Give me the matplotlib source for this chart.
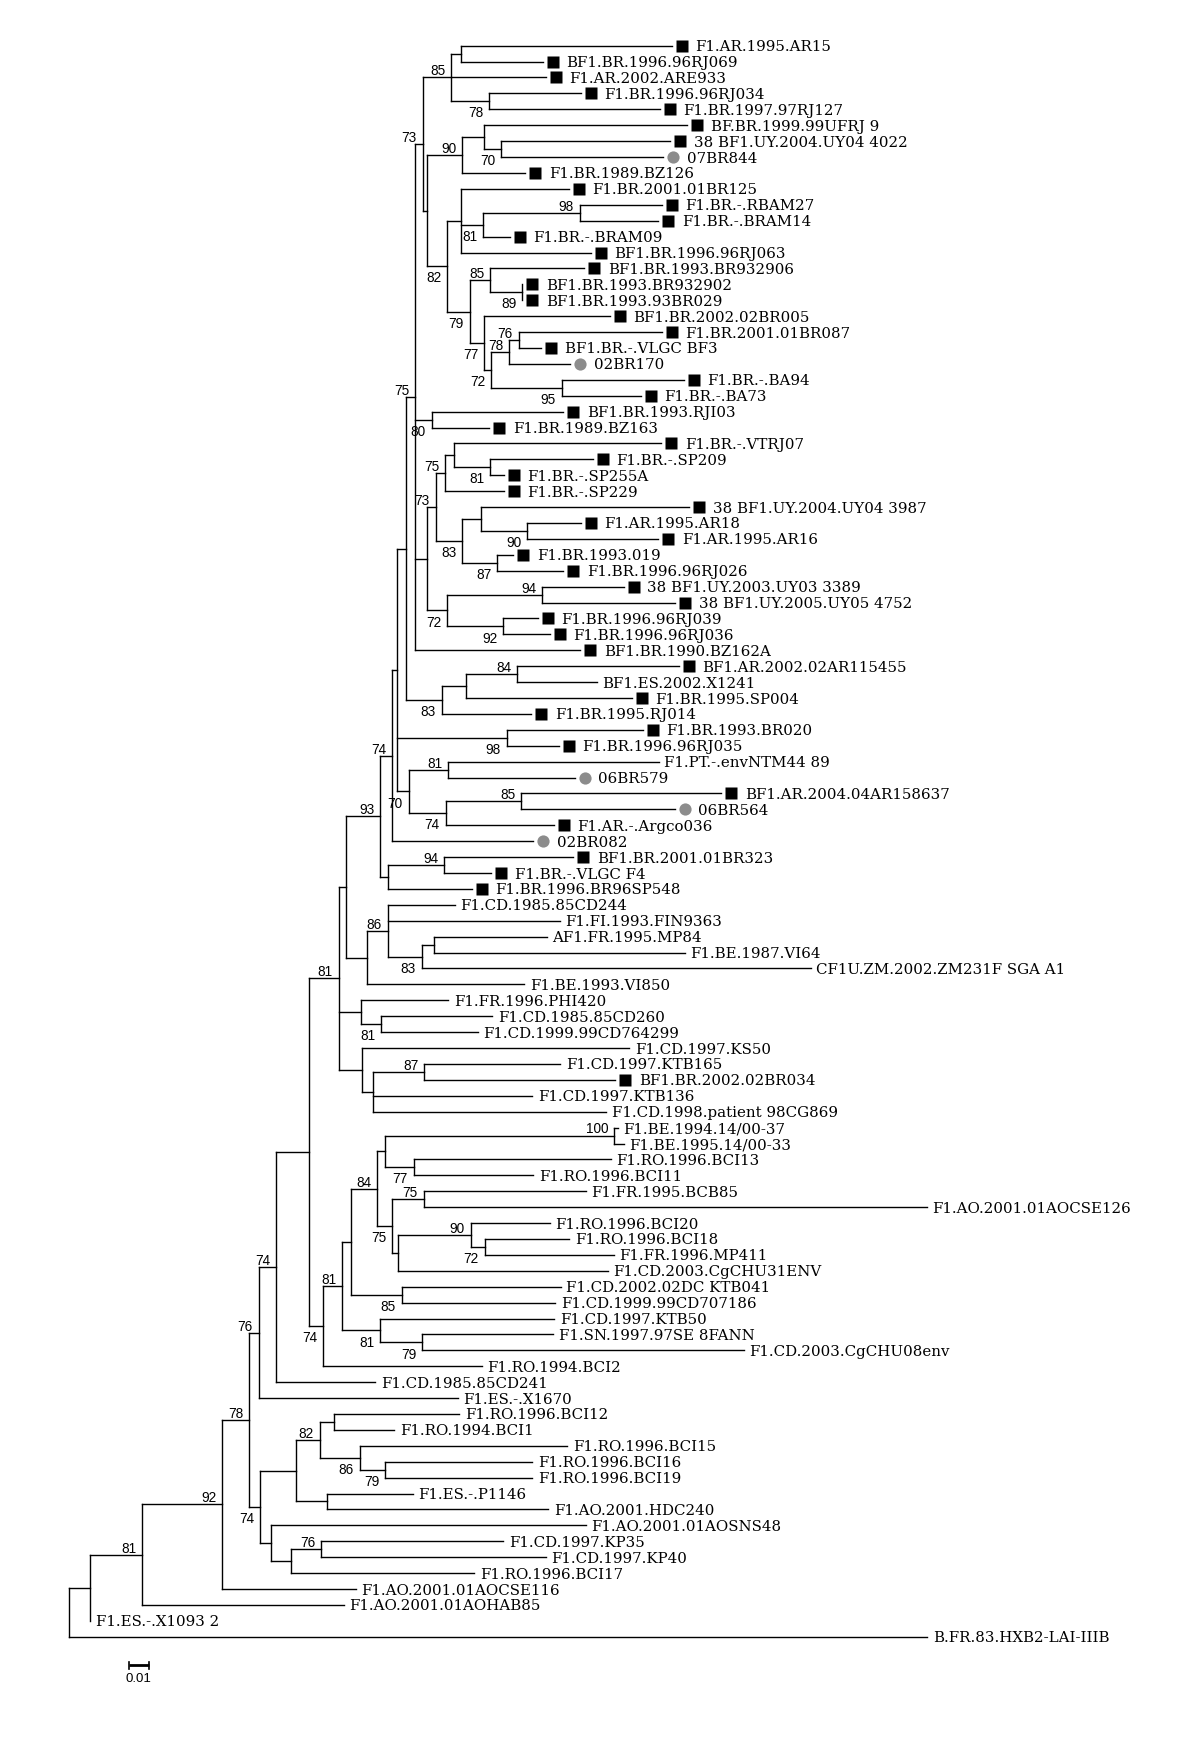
import matplotlib
matplotlib.use("Agg")
import matplotlib.pyplot as plt
from matplotlib.collections import LineCollection
from matplotlib.transforms import offset_copy

# ---- tree data: Newick pieces, branch lengths in substitutions/site,
# ---- bootstrap values (>=70) written as internal node labels
clade_b = ("(('F1.AR.1995.AR15':0.1055,'BF1.BR.1996.96RJ069':0.041):0.0047,"
           "'F1.AR.2002.ARE933':0.0472,"
           "('F1.BR.1996.96RJ034':0.0458,'F1.BR.1997.97RJ127':0.0853)78:0.019)85:0.0143")
clade_h = ("(('BF.BR.1999.99UFRJ 9':0.1016,('38 BF1.UY.2004.UY04 4022':0.0843,"
           "'07BR844':0.0808)70:0.0086):0.0109,'F1.BR.1989.BZ126':0.0315)90:0.0176")
clade_k = ("('F1.BR.2001.01BR125':0.0539,(('F1.BR.-.RBAM27':0.041,'F1.BR.-.BRAM14':0.0393)98:0.0481,"
           "'F1.BR.-.BRAM09':0.0132)81:0.0113,'BF1.BR.1996.96RJ063':0.065):0.0068")
clade_o = ("('BF1.BR.1993.BR932906':0.0469,('BF1.BR.1993.BR932902':0,"
           "'BF1.BR.1993.93BR029':0)89:0.0159)85:0.0104")
clade_q = ("('BF1.BR.2002.02BR005':0.0629,((('F1.BR.2001.01BR087':0.0715,'BF1.BR.-.VLGC BF3':0.0112)76:0.0049,"
           "'02BR170':0.0307)78:0.009,('F1.BR.-.BA94':0.0611,'F1.BR.-.BA73':0.0396)95:0.0354)72:0.0034)77:0.0073")
clade_v = "('BF1.BR.1993.RJI03':0.0658,'F1.BR.1989.BZ163':0.0288)80:0.0083"
clade_x = ("(('F1.BR.-.VTRJ07':0.1037,('F1.BR.-.SP209':0.0512,'F1.BR.-.SP255A':0.0069)81:0.0181):0.0043,"
           "'F1.BR.-.SP229':0.0293)75:0.0048")
clade_aa = ("(('38 BF1.UY.2004.UY04 3987':0.1041,('F1.AR.1995.AR18':0.0267,'F1.AR.1995.AR16':0.0655)90:0.0232):0.0092,"
            "('F1.BR.1993.019':0.0081,'F1.BR.1996.96RJ026':0.0331)87:0.0174)83:0.0133")
clade_ae = ("(('38 BF1.UY.2003.UY03 3389':0.0408,'38 BF1.UY.2005.UY05 4752':0.0666)94:0.0474,"
            "('F1.BR.1996.96RJ039':0.0173,'F1.BR.1996.96RJ036':0.0233)92:0.0279)72:0.01")
clade_ai = ("((('BF1.AR.2002.02AR115455':0.0806,'BF1.ES.2002.X1241':0.0396)84:0.0257,"
            "'F1.BR.1995.SP004':0.083):0.012,'F1.BR.1995.RJ014':0.0447)83:0.0178")
clade_aj = "('F1.BR.1993.BR020':0.0678,'F1.BR.1996.96RJ035':0.0259)98:0.055"
clade_aw = ("(('F1.PT.-.envNTM44 89':0.1053,'06BR579':0.0633)81:0.0197,"
            "(('BF1.AR.2004.04AR158637':0.1,'06BR564':0.0767)85:0.0379,'F1.AR.-.Argco036':0.054)74:0.0184)70:0.0059")
clade_an = ("(('BF1.BR.2001.01BR323':0.0645,'F1.BR.-.VLGC F4':0.0234)94:0.0283,"
            "'F1.BR.1996.BR96SP548':0.0421):0.0037")
clade_ar = ("(('F1.CD.1985.85CD244':0.0335,'F1.FI.1993.FIN9363':0.0861,"
            "(('AF1.FR.1995.MP84':0.0565,'F1.BE.1987.VI64':0.1254):0.0061,"
            "'CF1U.ZM.2002.ZM231F SGA A1':0.1946)83:0.0169)86:0.0105,'F1.BE.1993.VI850':0.0787):0.0106")
clade_bm = ("('F1.FR.1996.PHI420':0.0439,('F1.CD.1985.85CD260':0.0557,"
            "'F1.CD.1999.99CD764299':0.0485)81:0.0102):0.0109")
clade_bo = ("('F1.CD.1997.KS50':0.1339,(('F1.CD.1997.KTB165':0.068,'BF1.BR.2002.02BR034':0.0954)87:0.0255,"
            "'F1.CD.1997.KTB136':0.0795,'F1.CD.1998.patient 98CG869':0.1165):0.0059):0.0114")
clade_bj = ("(('F1.BE.1994.14/00-37':0.0016,'F1.BE.1995.14/00-33':0.0046)100:0.1148,"
            "('F1.RO.1996.BCI13':0.0985,'F1.RO.1996.BCI11':0.0597)77:0.0145):0.0037")
clade_bk = ("(('F1.FR.1995.BCB85':0.081,'F1.AO.2001.01AOCSE126':0.2517)75:0.0156,"
            "(('F1.RO.1996.BCI20':0.0394,('F1.RO.1996.BCI18':0.0422,'F1.FR.1996.MP411':0.0644)72:0.007)90:0.0364,"
            "'F1.CD.2003.CgCHU31ENV':0.1049):0.0028)75:0.0075")
clade_bh = "('F1.CD.2002.02DC KTB041':0.0794,'F1.CD.1999.99CD707186':0.0766)85:0.0253"
clade_bf = ("('F1.CD.1997.KTB50':0.0869,('F1.SN.1997.97SE 8FANN':0.0653,"
            "'F1.CD.2003.CgCHU08env':0.1607)79:0.021)81:0.019")
clade_cd = ("(((('F1.RO.1996.BCI12':0.0624,'F1.RO.1994.BCI1':0.03):0.0074,"
            "('F1.RO.1996.BCI15':0.1038,('F1.RO.1996.BCI16':0.0736,'F1.RO.1996.BCI19':0.0736)79:0.0127)86:0.0201)82:0.0119,"
            "('F1.ES.-.P1146':0.0429,'F1.AO.2001.HDC240':0.1105):0.0157):0.0179,"
            "('F1.AO.2001.01AOSNS48':0.1574,(('F1.CD.1997.KP35':0.0911,'F1.CD.1997.KP40':0.1123)76:0.015,"
            "'F1.RO.1996.BCI17':0.0916):0.01):0.0056)74:0.0053")

# assemble the full tree
clade_c = "(" + clade_b + ",(" + clade_h + ",(" + clade_k + ",(" + clade_o + "," + clade_q + ")79:0.0112)82:0.01):0.0023)73:0.0038"
clade_e = "(" + clade_c + "," + clade_v + ",((" + clade_x + "," + clade_aa + ")73:0.0043," + clade_ae + "):0.0061,'BF1.BR.1990.BZ162A':0.0827)75:0.0043"
clade_f = "(" + clade_e + "," + clade_ai + "):0.0047"
clade_93 = "(((" + clade_f + "," + clade_aj + "," + clade_aw + "):0.0023,'02BR082':0.0704)74:0.006," + clade_an + ")93:0.0174"
clade_ca = "((" + clade_93 + "," + clade_ar + "):0.0034," + clade_bm + "," + clade_bo + ")81:0.015"
clade_bc = "(((" + "(" + clade_bj + "," + clade_bk + ")84:0.013," + clade_bh + "):0.0045," + clade_bf + ")81:0.0097,'F1.RO.1994.BCI2':0.0793)74:0.0071"
clade_cb = "(((" + clade_ca + "," + clade_bc + "):0.0163,'F1.CD.1985.85CD241':0.0495)74:0.0087,'F1.ES.-.X1670':0.0996)76:0.0047"
clade_ce = "((" + clade_cb + "," + clade_cd + ")78:0.0137,'F1.AO.2001.01AOCSE116':0.067)92:0.0398"
TREE = "(((" + clade_ce + ",'F1.AO.2001.01AOHAB85':0.1006)81:0.0261,'F1.ES.-.X1093 2':0):0.0107,'B.FR.83.HXB2-LAI-IIIB':0.4293);"

SQUARE_TAXA = [
    'F1.AR.1995.AR15', 'BF1.BR.1996.96RJ069', 'F1.AR.2002.ARE933', 'F1.BR.1996.96RJ034',
    'F1.BR.1997.97RJ127', 'BF.BR.1999.99UFRJ 9', '38 BF1.UY.2004.UY04 4022', 'F1.BR.1989.BZ126',
    'F1.BR.2001.01BR125', 'F1.BR.-.RBAM27', 'F1.BR.-.BRAM14', 'F1.BR.-.BRAM09', 'BF1.BR.1996.96RJ063',
    'BF1.BR.1993.BR932906', 'BF1.BR.1993.BR932902', 'BF1.BR.1993.93BR029', 'BF1.BR.2002.02BR005',
    'F1.BR.2001.01BR087', 'BF1.BR.-.VLGC BF3', 'F1.BR.-.BA94', 'F1.BR.-.BA73', 'BF1.BR.1993.RJI03',
    'F1.BR.1989.BZ163', 'F1.BR.-.VTRJ07', 'F1.BR.-.SP209', 'F1.BR.-.SP255A', 'F1.BR.-.SP229',
    '38 BF1.UY.2004.UY04 3987', 'F1.AR.1995.AR18', 'F1.AR.1995.AR16', 'F1.BR.1993.019',
    'F1.BR.1996.96RJ026', '38 BF1.UY.2003.UY03 3389', '38 BF1.UY.2005.UY05 4752', 'F1.BR.1996.96RJ039',
    'F1.BR.1996.96RJ036', 'BF1.BR.1990.BZ162A', 'BF1.AR.2002.02AR115455', 'F1.BR.1995.SP004',
    'F1.BR.1995.RJ014', 'F1.BR.1993.BR020', 'F1.BR.1996.96RJ035', 'BF1.AR.2004.04AR158637',
    'F1.AR.-.Argco036', 'BF1.BR.2001.01BR323', 'F1.BR.-.VLGC F4', 'F1.BR.1996.BR96SP548',
    'BF1.BR.2002.02BR034',
]
CIRCLE_TAXA = ['07BR844', '02BR170', '06BR579', '06BR564', '02BR082']
SCALE_BAR = 0.01


def parse_newick(s):
    pos = 0

    def node():
        nonlocal pos
        n = {'children': [], 'name': '', 'support': '', 'length': 0.0}
        if s[pos] == '(':
            pos += 1
            while True:
                n['children'].append(node())
                if s[pos] == ',':
                    pos += 1
                    continue
                pos += 1
                break
            start = pos
            while s[pos] not in ':,);':
                pos += 1
            n['support'] = s[start:pos]
        elif s[pos] == "'":
            end = s.index("'", pos + 1)
            n['name'] = s[pos + 1:end]
            pos = end + 1
        if s[pos] == ':':
            pos += 1
            start = pos
            while s[pos] not in ',);':
                pos += 1
            n['length'] = float(s[start:pos])
        return n

    return node()


root = parse_newick(TREE)
leaves = []


def layout(n, x0):
    n['x'] = x0 + n['length']
    if n['children']:
        for c in n['children']:
            c['parent'] = n
            layout(c, n['x'])
        n['y'] = (n['children'][0]['y'] + n['children'][-1]['y']) / 2
    else:
        n['y'] = len(leaves)
        leaves.append(n)


root['length'] = 0.0
layout(root, 0.0)

fig = plt.figure(figsize=(12, 17.47), dpi=100)
ax = fig.add_axes([0, 0, 1, 1])
ax.set_xlim(-0.0344, 0.5656)
ax.set_ylim(106.93, -2.87)
ax.axis('off')

segs = []
internal = []


def collect(n):
    if n['children']:
        internal.append(n)
        segs.append([(n['x'], n['children'][0]['y']), (n['x'], n['children'][-1]['y'])])
        for c in n['children']:
            segs.append([(n['x'], c['y']), (c['x'], c['y'])])
            collect(c)


collect(root)
ax.add_collection(LineCollection(segs, colors='black', linewidths=1.0, capstyle='projecting'))

label_font = dict(family='DejaVu Serif', size=10.8)
boot_font = dict(family='Liberation Sans', size=9.8)

marker_tr = offset_copy(ax.transData, fig=fig, x=7.2, y=0, units='points')
text_mark_tr = offset_copy(ax.transData, fig=fig, x=17.0, y=0, units='points')
text_plain_tr = offset_copy(ax.transData, fig=fig, x=4.0, y=0, units='points')

for lf in leaves:
    name = lf['name']
    if name in SQUARE_TAXA:
        ax.plot(lf['x'], lf['y'], marker='s', ms=8.0, color='black', mec='none', transform=marker_tr)
        tr = text_mark_tr
    elif name in CIRCLE_TAXA:
        ax.plot(lf['x'], lf['y'], marker='o', ms=8.8, color='#8c8c8c', mec='none', transform=marker_tr)
        tr = text_mark_tr
    else:
        tr = text_plain_tr
    ax.text(lf['x'], lf['y'], name, transform=tr, ha='left', va='center_baseline', **label_font)

above_tr = offset_copy(ax.transData, fig=fig, x=-4.3, y=1.5, units='points')
below_tr = offset_copy(ax.transData, fig=fig, x=-4.3, y=-11.6, units='points')
for n in internal:
    if not n['support'] or 'parent' not in n:
        continue
    first = n['parent']['children'][0] is n
    ax.text(n['x'], n['y'], n['support'], transform=above_tr if first else below_tr,
            ha='right', va='baseline', **boot_font)

# scale bar
bx, by = 0.03, 101.8
ax.plot([bx, bx + SCALE_BAR], [by, by], color='black', lw=2.0, solid_capstyle='butt')
ax.plot([bx, bx], [by - 0.22, by + 0.22], color='black', lw=1.2)
ax.plot([bx + SCALE_BAR, bx + SCALE_BAR], [by - 0.22, by + 0.22], color='black', lw=1.2)
ax.text(bx + SCALE_BAR / 2, by + 0.45, '0.01', ha='center', va='top', family='Liberation Sans', size=9.5)

fig.savefig('out.png', dpi=100)
